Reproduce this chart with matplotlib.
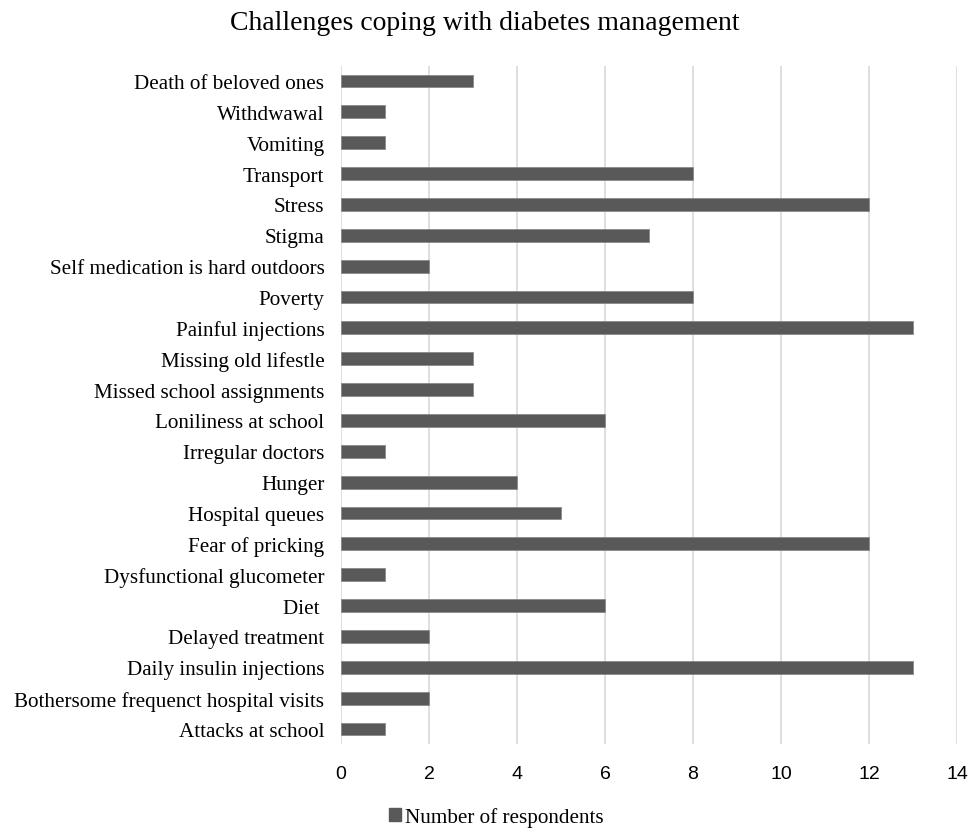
import matplotlib
matplotlib.use("Agg")
import matplotlib.pyplot as plt
from matplotlib.patches import Patch

categories = [
    "Death of beloved ones", "Withdwawal", "Vomiting", "Transport", "Stress", "Stigma",
    "Self medication is hard outdoors", "Poverty", "Painful injections", "Missing old lifestle",
    "Missed school assignments", "Loniliness at school", "Irregular doctors", "Hunger",
    "Hospital queues", "Fear of pricking", "Dysfunctional glucometer", "Diet ",
    "Delayed treatment", "Daily insulin injections", "Bothersome frequenct hospital visits",
    "Attacks at school",
]
values = [3, 1, 1, 8, 12, 7, 2, 8, 13, 3, 3, 6, 1, 4, 5, 12, 1, 6, 2, 13, 2, 1]
xticks = [0, 2, 4, 6, 8, 10, 12, 14]
series_name = "Number of respondents"
title = "Challenges coping with diabetes management"

serif = "Liberation Serif"
sans = "Liberation Sans"
bar_color = "#595959"

fig = plt.figure(figsize=(9.69, 8.29), dpi=100)
ax = fig.add_axes([0.352, 0.1008, 0.6356, 0.8189])

pos = list(range(len(categories)))
ax.barh(pos, values, height=0.42, color=bar_color, edgecolor="#8a8a8a", linewidth=0.6, zorder=3)
ax.set_ylim(len(categories) - 0.5, -0.5)
ax.set_xlim(0, 14)
ax.set_xticks(xticks)
ax.set_xticklabels([str(t) for t in xticks], fontfamily=sans, fontsize=14)
ax.set_yticks(pos)
ax.set_yticklabels(categories, fontfamily=serif, fontsize=15.2)
ax.tick_params(axis="both", length=0)
ax.tick_params(axis="x", pad=15)
ax.tick_params(axis="y", pad=12)
ax.grid(axis="x", color="#d9d9d9", linewidth=1.2, zorder=0)
for s in ax.spines.values():
    s.set_visible(False)

fig.text(0.5, 0.972, title, ha="center", va="center", fontfamily=serif, fontsize=20)

handle = Patch(facecolor=bar_color, edgecolor=bar_color)
fig.legend([handle], [series_name], loc="center", bbox_to_anchor=(0.512, 0.013),
           frameon=False, prop={"family": serif, "size": 15.2},
           handlelength=0.55, handleheight=0.6, handletextpad=0.2)

fig.savefig("out.png", dpi=100)
